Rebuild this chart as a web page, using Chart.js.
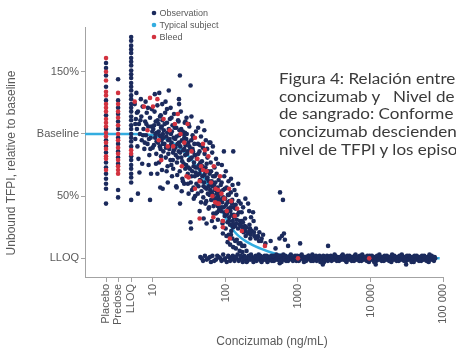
<!DOCTYPE html>
<html>
<head>
<meta charset="utf-8">
<script src="https://cdn.jsdelivr.net/npm/chart.js@4.4.1/dist/chart.umd.min.js"></script>
<style>
  html, body { margin: 0; padding: 0; background: #fff; overflow: hidden; }
  #wrap { position: relative; width: 456px; height: 352px; overflow: hidden; }
  #caption {
    position: absolute; left: 279px; top: 70px;
    font-family: Lato, "Open Sans", sans-serif; font-size: 15.5px; line-height: 17.7px;
    color: #3a3a3a; white-space: pre;
    transform: scaleX(1.1); transform-origin: left top;
  }
</style>
</head>
<body>
<div id="wrap">
  <canvas id="tfpiChart"></canvas>
  <div id="caption">Figura 4: Relación entre
concizumab y   Nivel de
de sangrado: Conforme
concizumab descienden
nivel de TFPI y los episodios</div>
</div>
<script>
// x positions of the three non-numeric columns on the log concentration axis
const placeboX = 2.25, predoseX = 3.3, lloqX = 5;

const xTickValues = [placeboX, predoseX, lloqX, 10, 100, 1000, 10000, 100000];
const xTickLabels = ['Placebo', 'Predose', 'LLOQ', '10', '100', '1000', '10 000', '100 000'];
const yTickValues = [0, 50, 100, 150];
const yTickLabels = ['LLOQ', '50%', 'Baseline', '150%'];

// unbound TFPI (% of baseline) in the placebo / predose / below-LLOQ columns
const placeboObs = [157, 153, 147, 138, 127, 115, 104, 95, 90, 85, 77, 73, 68, 64, 60, 56, 44];
const placeboBleed = [161, 150, 143, 134, 131, 124, 121, 118, 112, 109, 106, 101, 98, 93, 88, 82, 80, 71];
const predoseObs = [144, 127, 121, 116, 110, 104, 97, 92, 86, 81, 76, 55, 49];
const predoseBleed = [133, 124, 118, 113, 107, 100, 95, 89, 84, 79, 74, 71, 68];
const lloqObs = [178, 175, 171, 168, 165, 161, 158, 155, 151, 148, 145, 141, 138, 135, 131, 128, 124, 121,
  118, 114, 111, 107, 104, 100, 97, 94, 90, 82, 79, 75, 72, 68, 65, 61, 47];
const lloqBleed = [87, 84];

// [concizumab ng/mL, unbound TFPI %]
const obsPoints = [
  [5.6,124],[5.8,112],[6.0,104],[5.7,96],[6.2,118],[6.4,108],[6.1,90],[6.6,100],[6.9,114],[7.0,95],[7.2,122],
  [7.4,104],[7.6,88],[7.8,110],[8.0,99],[8.2,117],[8.4,92],[8.6,106],[8.9,83],[9.1,113],[9.3,97],[9.6,120],
  [9.8,102],[6.3,80],[7.1,76],[8.7,75],[9.4,68],[6.8,128],[5.9,133],[7.9,126],[6.5,69],[9.9,89],[6.2,52],[9.1,47],
  [6.7,111],[7.3,99],[8.1,108],[8.8,96],[9.5,106],[6.0,117],[7.7,93],[9.2,88],[5.7,108],[8.5,121],
  [10.1,104],[10.3,91],[10.5,118],[10.7,97],[10.9,110],[11.1,84],[11.3,101],[11.5,123],[11.7,93],[11.9,108],
  [12.1,77],[12.3,99],[12.5,114],[12.7,88],[12.9,105],[13.1,95],[13.3,71],[13.5,111],[13.7,100],[13.9,86],
  [14.1,103],[14.4,92],[14.7,117],[15.0,81],[15.3,98],[15.6,109],[15.9,74],[16.2,95],[16.5,104],[16.8,88],
  [17.1,112],[17.4,79],[17.7,100],[18.0,93],[18.3,66],[18.6,107],[18.9,85],[19.2,97],[19.5,116],[19.8,90],
  [14.9,126],[16.0,61],[17.5,121],[19.0,72],[12.6,57],[13.6,56],[11.5,68],
  [10.4,107],[10.8,100],[11.2,94],[11.6,111],[12.0,102],[12.4,90],[12.8,98],[13.2,106],[13.6,92],[14.0,97],
  [14.5,108],[15.1,89],[15.7,101],[16.3,84],[16.9,96],[17.6,91],[18.2,102],[18.8,79],[19.4,87],[19.9,105],
  [11.0,76],[12.9,82],[15.4,70],[17.9,75],[13.4,124],[18.0,113],
  [23.5,147],[33,139],[10.6,132],[12.2,133],[16.5,135],[22.8,128],[15.6,120],[12.8,115],[22.5,110],[28,110],
  [31,108],[26.6,100],
  [20.2,96],[20.6,83],[21.0,105],[21.4,77],[21.8,92],[22.2,111],[22.6,86],[23.0,99],[23.4,70],[23.8,90],
  [24.2,118],[24.6,81],[25.0,95],[25.4,64],[25.8,102],[26.2,87],[26.6,76],[27.0,97],[27.4,109],[27.8,83],
  [20.9,58],[22.9,124],[24.9,54],[26.9,60],[21.2,57],[23.6,44],
  [20.4,89],[21.2,98],[22.0,81],[22.8,93],[23.7,85],[24.5,104],[25.3,78],[26.1,94],[27.0,88],[27.9,72],
  [28.8,96],[29.8,86],[30.8,73],[31.8,90],[32.9,80],[34.0,66],[35.1,88],[36.3,74],[37.5,83],[38.8,69],
  [21.6,67],[25.9,62],[30.3,60],[34.5,55],[38.0,50],[23.2,103],[27.6,101],[35.8,97],
  [28.2,91],[28.7,75],[29.2,100],[29.7,84],[30.2,68],[30.7,93],[31.2,79],[31.7,106],[32.2,72],[32.7,88],
  [33.2,61],[33.7,95],[34.2,81],[34.7,70],[35.2,99],[35.7,86],[36.2,57],[36.7,77],[37.2,92],[37.7,66],
  [38.2,83],[38.7,73],[39.2,102],[39.7,60],[29.0,113],[31.0,52],[33.9,114],[36.5,48],[32.9,29],[33.5,24],
  [40.3,80],[41.0,67],[41.7,92],[42.4,58],[43.1,75],[43.8,86],[44.5,63],[45.2,71],[45.9,98],[46.6,54],
  [47.3,78],[48.0,66],[48.7,89],[49.4,49],[50.1,72],[50.8,61],[51.5,84],[52.2,57],[52.9,69],[53.6,95],
  [54.3,46],[55.0,76],[55.7,64],[56.4,81],[57.1,52],[57.8,70],[58.5,40],[59.2,62],[42.0,105],[47.0,110],
  [51.0,103],[44.0,38],[49.9,32],[54.8,28],
  [40.8,73],[42.2,84],[43.6,68],[45.0,77],[46.5,62],[48.1,74],[49.7,58],[51.3,67],[53.0,73],[54.7,56],
  [56.5,65],[58.4,58],[60.3,51],[62.3,60],[64.3,53],[66.4,58],[68.6,49],[70.9,55],[73.2,47],[75.6,52],
  [78.1,42],[80.6,48],[41.5,52],[46.0,45],[52.7,44],[59.6,41],[67.9,36],[76.9,37],[44.7,91],[55.9,88],
  [63.3,70],[71.3,66],
  [60.5,68],[61.5,55],[62.5,77],[63.5,47],[64.5,62],[65.5,85],[66.5,51],[67.5,66],[68.5,42],[69.5,59],
  [70.5,73],[71.5,48],[72.5,61],[73.5,36],[74.5,55],[75.5,68],[76.5,44],[77.5,57],[78.5,31],[79.5,50],
  [80.5,63],[81.5,39],[82.5,54],[83.5,45],[62.0,93],[67.0,90],[74.0,80],[79.0,76],[65.0,30],[71.0,25],
  [85.5,52],[87,38],[88.5,61],[90,45],[91.5,30],[93,55],[94.5,41],[96,66],[97.5,34],[99,48],[100.5,24],
  [102,43],[103.5,57],[105,36],[106.5,29],[108,51],[109.5,40],[111,19],[112.5,33],[114,46],[115.5,27],
  [117,38],[118.5,53],[120,22],[121.5,35],[123,44],[124.5,16],[126,30],[127.5,25],[129,41],[89,75],[95,86],
  [101,70],[110,62],[119,64],[92,20],[107,13],[116,11],[125,59],[128,9],[128,86],[60,93],
  [84,47],[88,41],[93,49],[97,37],[102,35],[107,45],[112,30],[118,41],[124,27],[130,35],[136,26],[143,31],
  [157,27],[173,24],[190,22],[86,59],[98,56],[111,51],[124,47],[138,43],
  [153,37],[168,30],[185,26],[91,28],[103,18],[119,19],[136,14],[152,12],[170,10],
  [131,33],[137,40],[140,28],[143,15],[146,35],[149,24],[152,46],[158,30],[161,12],
  [164,26],[167,37],[174,29],[178,21],[182,10],[186,32],[190,18],[194,25],[133,55],
  [141,51],[150,60],[162,44],[175,41],[188,48],[139,8],[157,6],[171,5],
  [203,20],[214,27],[220,16],[232,22],[244,30],[250,18],[263,24],
  [277,17],[293,21],[310,14],[330,19],[355,12],
  [420,14],[205,44],[212,38],[240,37],[225,33],[565,53],[620,47],[555,16],[600,18],[640,20],[660,15],
  [730,10],[1070,12],[2600,10],[490,8],
  [223,19],[218,24],[247,21],[280,18],[315,16],[160,27],[195,6],[215,22],[262,16],[290,14]
];

// readings sitting on the quantification limit
const lloqBandPoints = [
  [45,1],[49,-2],[52,2],[58,0],[63,-3],[66,2],[74,-1],[81,1],[88,-2],[93,3],[99,0],[104,-3],[112,1],[119,-1],
  [126,2],[133,-2],[141,0],[147,3],[156,-1],[166,1],[173,-3],[181,2],[192,0],[201,-2],[209,2],[219,-1],
  [231,1],[243,-3],[251,0],[262,2],[275,-1],[287,3],[296,0],[309,-2],[322,1],[338,-1],[347,2],[361,0],
  [379,-3],[393,1],[411,-1],[428,2],[447,0],[466,-2],[481,1],[503,3],[524,-1],[548,0],[571,2],[593,-3],
  [612,1],[641,-1],[669,2],[702,0],[731,-2],[768,1],[796,3],[829,-1],[874,0],[911,2],[947,-2],[1003,1],
  [1048,-1],[1097,2],[1152,0],[1208,-3],[1261,1],[1329,-1],[1387,2],[1441,0],[1512,-2],[1580,3],[1655,-1],
  [1730,1],[1811,-2],[1902,0],[1984,2],[2087,-1],[2176,1],[2291,-3],[2402,0],[2518,2],[2644,-1],[2771,1],
  [2903,-2],[3048,0],[3197,3],[3342,-1],[3511,1],[3689,-2],[3852,0],[4037,2],[4243,-1],[4451,1],[4672,-3],
  [4898,0],[5133,2],[5390,-1],[5641,1],[5922,-2],[6208,3],[6507,0],[6833,-1],[7152,2],[7498,-2],[7866,0],
  [8249,1],[8640,-1],[9058,2],[9511,-3],[9972,0],[10460,2],[10960,-1],[11490,1],[12060,-2],[12650,0],
  [13260,3],[13900,-1],[14580,1],[15290,-2],[16030,0],[16810,2],[17620,-1],[18480,1],[19380,-3],[20320,0],
  [21310,2],[22340,-1],[23430,1],[24570,-2],[25760,0],[27010,3],[28330,-1],[29710,1],[31150,-2],[32660,0],
  [34250,2],[35910,-1],[37660,1],[39490,-3],[41410,0],[43420,2],[45530,-1],[47750,1],[50070,-2],[52500,0],
  [55060,2],[57730,-1],[60540,1],[63480,-3],[66570,0],[69800,2],[73200,-1],[76750,1],
  [2200,-5],[11800,-5],[560,-4],[31000,-5],
  [47,0],[55,-1],[61,1],[70,-2],[77,2],[85,0],[96,-1],[109,2],[116,-2],[123,0],[137,1],[152,-2],[161,2],
  [177,-1],[186,1],[196,-3],[214,0],[225,3],[237,-1],[256,1],[268,-2],[281,0],[301,2],[315,-3],[330,1],
  [354,-1],[370,2],[385,-2],[402,0],[420,1],[437,-2],[456,2],[494,-1],[513,0],[536,2],[560,-2],[582,1],
  [603,-1],[627,3],[655,0],[685,-2],[716,1],[749,-1],[782,2],[812,0],[851,-2],[893,1],[929,-1],[975,2],
  [1025,-2],[1072,0],[1124,3],[1180,-1],[1234,1],[1295,-2],[1357,0],[1414,2],[1476,-1],[1546,1],[1617,-2],
  [1692,0],[1770,2],[1856,-1],[1943,1],[2035,-3],[2131,0],[2233,2],[2345,-1],[2460,1],[2580,-2],[2707,0],
  [2837,2],[2960,1],[3120,-1],[3270,2],[3430,-2],[3600,0],[3770,1],[3940,-1],[4140,3],[4350,0],[4560,-2],
  [4780,2],[5010,-1],[5260,1],[5510,-2],[5780,0],[6060,2],[6360,-1],[6670,1],[6990,-2],[7330,0],[7690,3],
  [8060,-1],[8450,1],[8860,-2],[9290,0],[9740,2],[10210,-1],[10710,1],[11230,-3],[11770,0],[12350,2],
  [12950,-1],[13580,1],[14240,-2],[14930,0],[15660,2],[16420,-1],[17220,1],[18060,-2],[18940,0],[19860,3],
  [20830,-1],[21840,1],[22900,-2],[24010,0],[25180,2],[26400,-1],[27690,1],[29040,-2],[30450,0],[31930,2],
  [33480,-1],[35110,1],[36820,-3],[38610,0],[40490,2],[42460,-1],[44520,1],[46690,-2],[48960,0],[51340,2],
  [53840,-1],[56460,1],[59200,-2],[62080,0],[65100,3],[68270,-1],[71590,1],[75070,-2],[78000,0]
];

const bleedPoints = [
  [5.6,126],[7.5,122],[10,122],[8.4,103],[12,95],[14,112],[17,103],[19,90],[22,116],[24,100],[27,93],
  [30,108],[34,86],[38,97],[41,80],[46,74],[49,92],[55,70],[58,82],[63,61],[69,74],[73,56],[78,44],[84,66],
  [88,52],[96,48],[104,38],[112,56],[120,46],[134,34],[145,40],[168,22],[350,10],[1000,0],[9600,0],[25,74],
  [31,65],[44,62],[52,87],[66,50],[92,30],[13,79],[16,90],[20,108],[29,66],[38,56],[49,71],[79,55],[68,33],
  [92,25],[115,16],[44,32],[72,45],[81,44],[9.1,129],[11.5,128]
];

// typical-subject model curve
const typicalConc = [1.15, 5, 10, 15, 20, 30, 40, 50, 70, 100, 135, 200, 300, 500, 700, 1000, 2000, 90000];
const typicalTfpi = [100, 100, 99, 96, 92, 83, 74, 65, 50, 33, 21, 13, 8, 3.5, 2, 1, 0.5, 0];

const navy = '#1b2a5c';
const red = '#d2323f';
const cyan = '#33ade0';
const textGrey = '#5a5a5a';
const axisGrey = '#a3a3a3';
const font = '"Liberation Sans", Arial, sans-serif';

const column = (x, vals) => vals.map(v => ({ x: x, y: v }));
const pairs = (list) => list.map(p => ({ x: p[0], y: p[1] }));

const obsData = [].concat(
  column(placeboX, placeboObs), column(predoseX, predoseObs), column(lloqX, lloqObs),
  pairs(obsPoints), pairs(lloqBandPoints));
const bleedData = [].concat(
  column(placeboX, placeboBleed), column(predoseX, predoseBleed), column(lloqX, lloqBleed), pairs(bleedPoints));
const curveData = typicalConc.map((c, i) => ({ x: c, y: typicalTfpi[i] }));

// legend, axis titles
const figureLabels = {
  id: 'figureLabels',
  afterDraw(chart) {
    const ctx = chart.ctx;
    ctx.save();
    ctx.fillStyle = textGrey;
    ctx.textBaseline = 'middle';
    ctx.textAlign = 'center';
    ctx.font = '12px ' + font;
    ctx.fillText('Concizumab (ng/mL)', 272, 342);
    ctx.save();
    ctx.translate(12, 163);
    ctx.rotate(-Math.PI / 2);
    ctx.fillText('Unbound TFPI, relative to baseline', 0, 0);
    ctx.restore();

    ctx.textAlign = 'left';
    ctx.font = '9px ' + font;
    const items = [chart.data.datasets[1], chart.data.datasets[2], chart.data.datasets[0]];
    items.forEach((ds, i) => {
      const y = 13 + i * 12;
      ctx.beginPath();
      ctx.arc(154, y, 2.3, 0, Math.PI * 2);
      ctx.fillStyle = ds.legendColor;
      ctx.fill();
      ctx.fillStyle = textGrey;
      ctx.fillText(ds.label, 159.5, y + 0.5);
    });
    ctx.restore();
  }
};

const ctx = document.getElementById('tfpiChart').getContext('2d');

new Chart(ctx, {
  type: 'scatter',
  data: {
    datasets: [
      {
        label: 'Bleed', data: bleedData, legendColor: red,
        backgroundColor: red, pointRadius: 2.3, pointBorderWidth: 0, order: 1
      },
      {
        label: 'Observation', data: obsData, legendColor: navy,
        backgroundColor: navy, pointRadius: 2.3, pointBorderWidth: 0, order: 2
      },
      {
        type: 'line', label: 'Typical subject', data: curveData, legendColor: cyan,
        borderColor: cyan, borderWidth: 2.5, pointRadius: 0, fill: false,
        cubicInterpolationMode: 'monotone', order: 3
      }
    ]
  },
  options: {
    responsive: true,
    maintainAspectRatio: false,
    animation: false,
    events: [],
    layout: { padding: { top: 27, right: 13, left: 0, bottom: 0 } },
    plugins: { legend: { display: false }, tooltip: { enabled: false } },
    scales: {
      x: {
        type: 'logarithmic',
        min: 1.154,
        max: 100000,
        afterBuildTicks: (scale) => { scale.ticks = xTickValues.map(v => ({ value: v })); },
        afterFit: (scale) => { scale.height = 75; scale.paddingLeft = 0; scale.paddingRight = 0; },
        ticks: {
          autoSkip: false, minRotation: 90, maxRotation: 90, padding: 2,
          color: textGrey, font: { family: font, size: 11 },
          callback: (v, i) => xTickLabels[i]
        },
        grid: { drawOnChartArea: false, tickLength: 5, color: axisGrey },
        border: { color: axisGrey }
      },
      y: {
        min: -15,
        max: 186,
        afterBuildTicks: (scale) => { scale.ticks = yTickValues.map(v => ({ value: v })); },
        afterFit: (scale) => { scale.width = 85; scale.paddingTop = 0; scale.paddingBottom = 0; },
        ticks: {
          padding: 2, color: textGrey, font: { family: font, size: 11 },
          callback: (v, i) => yTickLabels[i]
        },
        grid: { drawOnChartArea: false, tickLength: 4, color: axisGrey },
        border: { color: axisGrey }
      }
    }
  },
  plugins: [figureLabels]
});
</script>
</body>
</html>
